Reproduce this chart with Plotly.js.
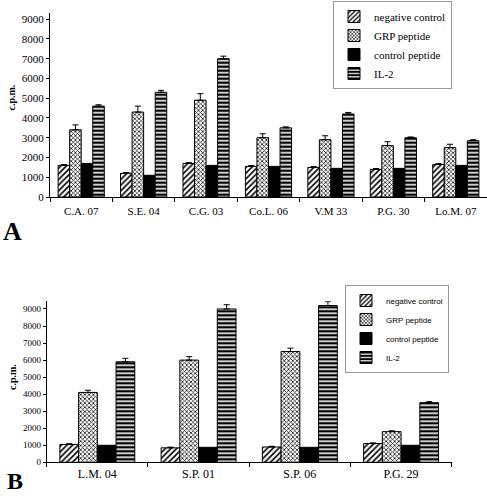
<!DOCTYPE html>
<html><head><meta charset="utf-8">
<script src="https://cdn.plot.ly/plotly-3.0.1.min.js"></script>
<style>html,body{margin:0;padding:0;background:#fff}#c{width:487px;height:496px}</style>
</head><body><div id="c"></div>
<script>
// Panel A
var catsA = ['C.A. 07','S.E. 04','C.G. 03','Co.L. 06','V.M 33','P.G. 30','Lo.M. 07'];
var negA = [1600,1200,1700,1550,1500,1400,1650];
var negErrA = [40,40,40,40,40,40,40];
var grpA = [3400,4300,4900,3000,2900,2600,2500];
var grpErrA = [250,300,330,200,200,200,170];
var ctrlA = [1700,1100,1600,1550,1450,1450,1600];
var il2A = [4600,5300,7000,3500,4200,3000,2850];
var il2ErrA = [70,100,130,50,80,40,50];
// Panel B
var catsB = ['L.M. 04','S.P. 01','S.P. 06','P.G. 29'];
var negB = [1050,850,900,1100];
var negErrB = [40,40,40,40];
var grpB = [4100,6000,6500,1800];
var grpErrB = [130,200,200,50];
var ctrlB = [1000,880,880,1000];
var il2B = [5900,9000,9200,3500];
var il2ErrB = [200,250,230,60];
var seriesNames = ['negative control','GRP peptide','control peptide','IL-2'];

var W = 487, H = 496;
function px(x){return x/W;}
function py(y){return 1 - y/H;}

var pats = [
  {shape:'/', fgcolor:'#000', bgcolor:'#fff', size:4, solidity:0.4},
  {shape:'x', fgcolor:'#111', bgcolor:'#fff', size:3, solidity:0.45},
  {shape:'', fgcolor:'#000', bgcolor:'#000'},
  {shape:'-', fgcolor:'#000', bgcolor:'#fff', size:4, solidity:0.6}
];
var cols = ['#fff','#fff','#000','#fff'];

function mk(cats, vals, errs, i, xa, ya, leg){
  var t = {
    type:'bar', x:cats, y:vals, name:seriesNames[i], xaxis:xa, yaxis:ya, legend:leg,
    cliponaxis:false,
    marker:{color:cols[i], line:{color:'#000', width:1}, pattern:pats[i]}
  };
  if (errs) t.error_y = {type:'data', array:errs, symmetric:false, arrayminus:errs.map(function(){return 0;}), color:'#000', thickness:1, width:3};
  return t;
}

var data = [
  mk(catsA, negA, negErrA, 0, 'x', 'y', 'legend'),
  mk(catsA, grpA, grpErrA, 1, 'x', 'y', 'legend'),
  mk(catsA, ctrlA, null, 2, 'x', 'y', 'legend'),
  mk(catsA, il2A, il2ErrA, 3, 'x', 'y', 'legend'),
  mk(catsB, negB, negErrB, 0, 'x2', 'y2', 'legend2'),
  mk(catsB, grpB, grpErrB, 1, 'x2', 'y2', 'legend2'),
  mk(catsB, ctrlB, null, 2, 'x2', 'y2', 'legend2'),
  mk(catsB, il2B, il2ErrB, 3, 'x2', 'y2', 'legend2')
];

var serif = 'Liberation Serif, Times New Roman, serif';
var sans = 'Liberation Sans, Arial, sans-serif';

var layout = {
  width:W, height:H, margin:{l:0,r:0,t:0,b:0},
  paper_bgcolor:'#fff', plot_bgcolor:'#fff',
  barmode:'group', bargap:0.26, bargroupgap:0,
  font:{family:serif, color:'#000'},
  xaxis:{domain:[px(50), 1], anchor:'y', type:'category', showline:true, linecolor:'#000', linewidth:1,
    ticks:'outside', tickson:'boundaries', ticklen:4, tickcolor:'#000', showgrid:false,
    tickfont:{family:serif, size:11, color:'#000'}, ticklabelstandoff:4},
  yaxis:{domain:[py(197), py(12.7)], anchor:'x', range:[0, 9330], tickvals:[0,1000,2000,3000,4000,5000,6000,7000,8000,9000],
    showline:true, linecolor:'#000', linewidth:1, ticks:'outside', ticklen:3, tickcolor:'#000',
    showgrid:false, zeroline:false, tickfont:{family:serif, size:11, color:'#000'}},
  xaxis2:{domain:[px(46.7), px(451.7)], anchor:'y2', type:'category', showline:true, linecolor:'#000', linewidth:1,
    ticks:'outside', tickson:'boundaries', ticklen:4, tickcolor:'#000', showgrid:false,
    tickfont:{family:serif, size:12, color:'#000'}},
  yaxis2:{domain:[py(462.3), py(301.3)], anchor:'x2', range:[0, 9450], tickvals:[0,1000,2000,3000,4000,5000,6000,7000,8000,9000],
    showline:true, linecolor:'#000', linewidth:1, ticks:'outside', ticklen:3, tickcolor:'#000',
    showgrid:false, zeroline:false, tickfont:{family:serif, size:9, color:'#000'}},
  legend:{x:px(452), xanchor:'right', y:py(1), yanchor:'top', bgcolor:'#fff', bordercolor:'#999', borderwidth:1,
    font:{family:serif, size:11, color:'#000'}, tracegroupgap:0},
  legend2:{x:px(449), xanchor:'right', y:py(285), yanchor:'top', bgcolor:'#fff', bordercolor:'#999', borderwidth:1,
    font:{family:sans, size:8, color:'#000'}, tracegroupgap:0},
  annotations:[
    {text:'c.p.m.', xref:'paper', yref:'paper', x:px(11.5), y:py(98), textangle:-90, showarrow:false,
      font:{family:serif, size:10, color:'#000', weight:'bold'}, xanchor:'center', yanchor:'middle'},
    {text:'c.p.m.', xref:'paper', yref:'paper', x:px(12), y:py(377), textangle:-90, showarrow:false,
      font:{family:serif, size:10, color:'#000', weight:'bold'}, xanchor:'center', yanchor:'middle'},
    {text:'<b>A</b>', xref:'paper', yref:'paper', x:px(12), y:py(231), showarrow:false,
      font:{family:serif, size:26, color:'#000'}, xanchor:'center', yanchor:'middle'},
    {text:'<b>B</b>', xref:'paper', yref:'paper', x:px(15), y:py(481), showarrow:false,
      font:{family:serif, size:24, color:'#000'}, xanchor:'center', yanchor:'middle'}
  ]
};

Plotly.newPlot('c', data, layout, {displayModeBar:false, staticPlot:true});
</script></body></html>
